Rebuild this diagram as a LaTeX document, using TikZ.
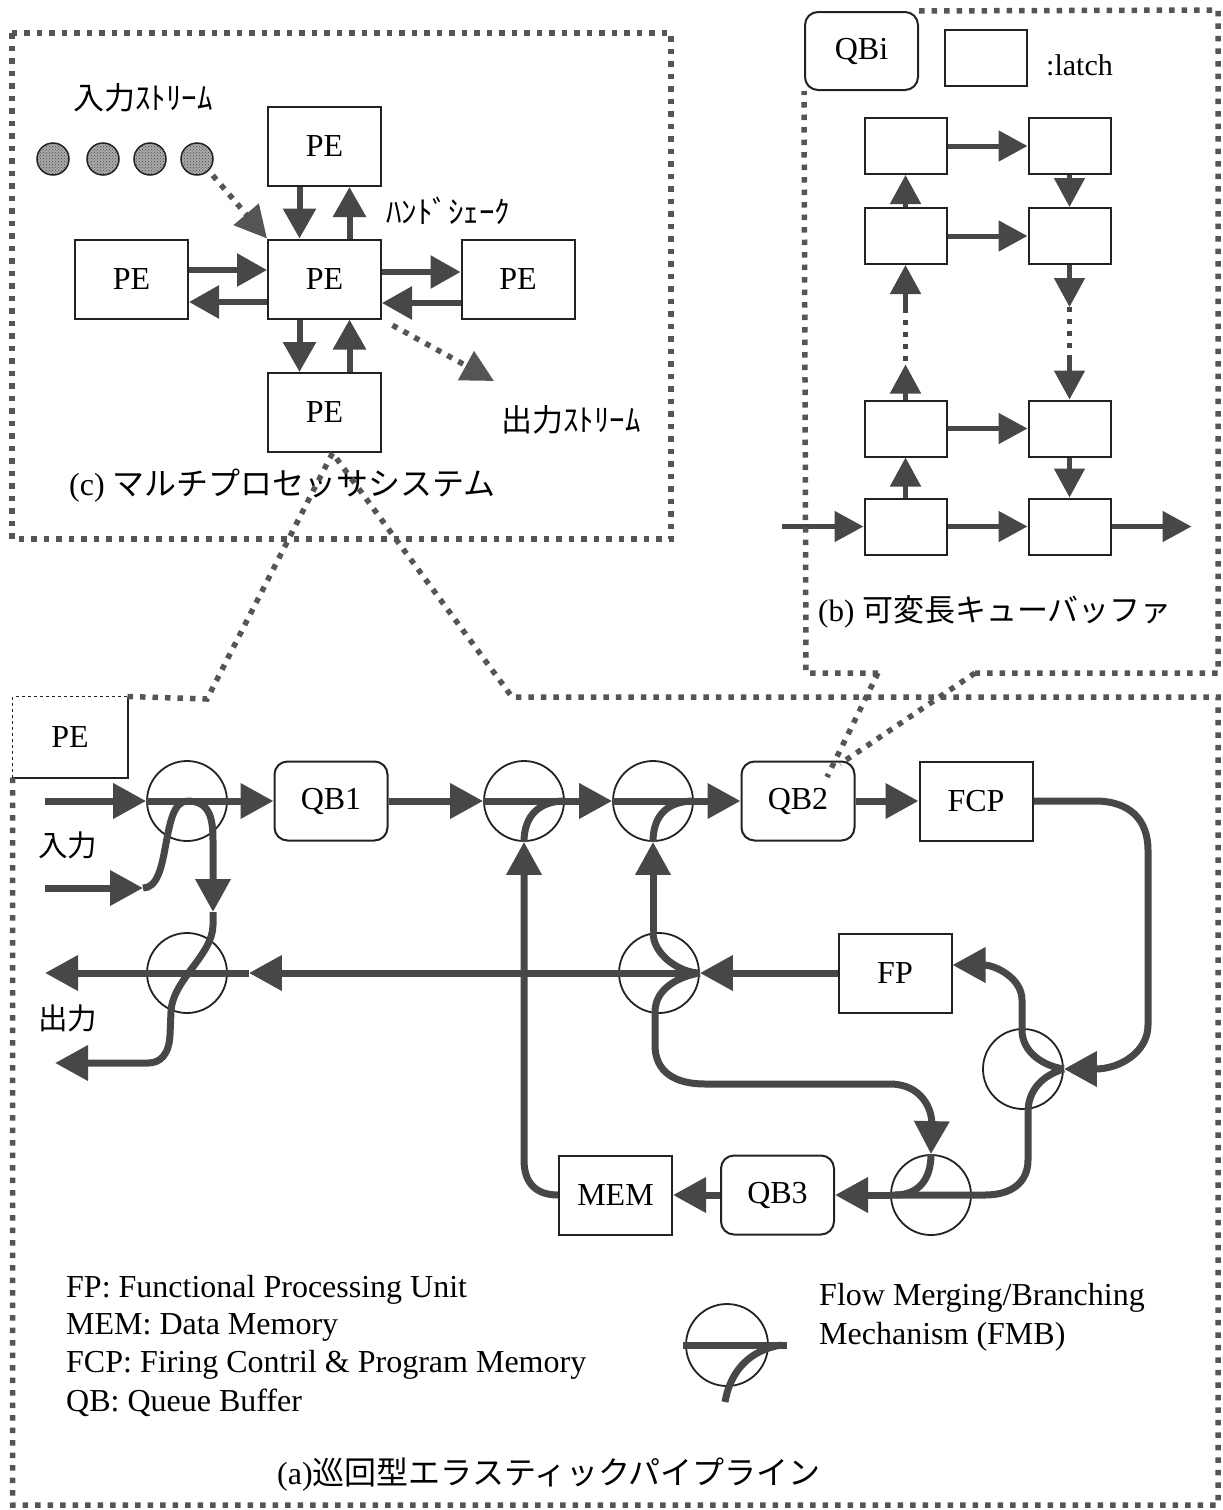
\documentclass[tikz,border=0pt]{standalone}
\usepackage{fontspec}
\setmainfont{Liberation Serif}
\newfontfamily\jpfont{Noto Sans CJK JP}
\usetikzlibrary{arrows.meta, positioning, patterns}
\definecolor{pipegray}{HTML}{474747}
\definecolor{dotgray}{HTML}{555555}
\definecolor{edgeblk}{HTML}{222222}
\definecolor{streamfill}{HTML}{A9A9A9}
\tikzset{
  pebox/.style   ={rectangle, draw=edgeblk, line width=2pt, minimum width=113pt,
                   minimum height=79pt, inner sep=0pt, font=\fontsize{32}{36}\selectfont},
  qbox/.style    ={pebox, rounded corners=13pt},
  latch/.style   ={rectangle, draw=edgeblk, line width=2pt, minimum width=82pt,
                   minimum height=56pt, inner sep=0pt},
  fmb/.style     ={circle, draw=edgeblk, line width=1.8pt, minimum size=80pt, inner sep=0pt},
  token/.style   ={circle, draw=edgeblk, line width=1.5pt, fill=streamfill,
                   minimum size=32pt, inner sep=0pt},
  pipe/.style    ={line width=7pt, draw=pipegray},
  flow/.style    ={pipe, -{Triangle[length=33pt, width=34pt]}},
  hshake/.style  ={line width=6pt, draw=pipegray, -{Triangle[length=30pt, width=32pt]}},
  lflow/.style   ={line width=5pt, draw=pipegray, -{Triangle[length=29pt, width=30pt]}},
  ldot/.style    ={line width=5pt, draw=pipegray, dash pattern=on 5pt off 7pt},
  dotframe/.style={line width=5.5pt, draw=dotgray, dash pattern=on 5.5pt off 7pt},
  dflow/.style   ={dotframe, -{Triangle[length=32pt, width=32pt]}},
  jlabel/.style  ={font=\jpfont\fontsize{31}{36}\selectfont, inner sep=0pt, anchor=west},
  rlabel/.style  ={font=\fontsize{32}{36}\selectfont, inner sep=0pt, anchor=west},
}
\begin{document}
\begin{tikzpicture}[x=1pt, y=-1pt]
  \useasboundingbox (0,0) rectangle (1223,1510);

  % (c) multiprocessor
  \draw[dotframe] (12,33) rectangle (671,539);
  \node[jlabel] (instr) at (73,98) {入力ｽﾄﾘｰﾑ};
  \node[token] (s1) at (53,159) {};
  \node[token] (s2) at (103,159) {};
  \node[token] (s3) at (150,159) {};
  \node[token] (s4) at (197,159) {};
  \foreach \s in {s1,s2,s3,s4}
    \fill[pattern=crosshatch dots, pattern color=black!70] (\s.center) circle (15pt);
  \node[pebox] (pct) at (324.5,146.5) {PE};
  \node[pebox] (pcc) at (324.5,279) {PE};
  \node[pebox] (pcl) at (131.5,279) {PE};
  \node[pebox] (pcr) at (518,279) {PE};
  \node[pebox] (pcb) at (324.5,412.5) {PE};
  \node[jlabel] (hand) at (386,211) {ﾊﾝﾄﾞｼｪｰｸ};
  \node[jlabel] (outstr) at (501,420) {出力ｽﾄﾘｰﾑ};
  \node[rlabel] (ctitle) at (69,486) {(c) {\jpfont マルチプロセッサシステム}};
  \coordinate (ostr) at (494,381);

  \draw[dflow, shorten <=6pt] (s4.south east) -- (pcc.north west);
  \draw[hshake] ([xshift=-25pt]pct.south) -- ([xshift=-25pt]pcc.north);
  \draw[hshake] ([xshift=25pt]pcc.north) -- ([xshift=25pt]pct.south);
  \draw[hshake] ([yshift=9pt]pcl.east) -- ([yshift=9pt]pcc.west);
  \draw[hshake] ([yshift=-23pt]pcc.west) -- ([yshift=-23pt]pcl.east);
  \draw[hshake] ([yshift=7pt]pcc.east) -- ([yshift=7pt]pcr.west);
  \draw[hshake] ([yshift=-24pt]pcr.west) -- ([yshift=-24pt]pcc.east);
  \draw[hshake] ([xshift=-25pt]pcc.south) -- ([xshift=-25pt]pcb.north);
  \draw[hshake] ([xshift=25pt]pcb.north) -- ([xshift=25pt]pcc.south);
  \draw[dflow, shorten <=12pt] (pcc.south east) -- (ostr);

  % (b) variable length queue buffer
  \node[qbox, minimum height=78pt] (qbi) at (861.5,51) {QBi};
  \node[latch] (key) at (986,58) {};
  \node[rlabel, font=\fontsize{30}{34}\selectfont] (keytxt) at (1046,65) {:latch};
  \node[latch] (l1) at (905.5,146) {};
  \node[latch, right=80pt of l1] (r1) {};
  \node[latch, below=32pt of l1] (l2) {};
  \node[latch, right=80pt of l2] (r2) {};
  \node[latch] (l3) at (905.5,428.5) {};
  \node[latch, right=80pt of l3] (r3) {};
  \node[latch, below=40pt of l3] (l4) {};
  \node[latch, right=80pt of l4] (r4) {};
  \coordinate[left=82pt of l4] (bin);
  \coordinate[right=80pt of r4] (bout);
  \coordinate[above=35pt of l3] (lu1);
  \coordinate[below=44pt of l2] (lu2);
  \coordinate[below=42pt of r2] (rd1);
  \coordinate[above=42pt of r3] (rd2);
  \node[rlabel, font=\fontsize{31}{36}\selectfont] (btitle) at (818,612) {(b) {\jpfont 可変長キューバッファ}};

  \draw[lflow] (bin) -- (l4);
  \draw[lflow] (l1) -- (r1);
  \draw[lflow] (l2) -- (r2);
  \draw[lflow] (l3) -- (r3);
  \draw[lflow] (l4) -- (r4);
  \draw[lflow] (r4) -- (bout);
  \draw[lflow] (l4) -- (l3);
  \draw[lflow] (l3) -- (lu1);
  \draw[ldot] ([yshift=4pt]lu1) -- (lu2);
  \draw[lflow] (lu2) -- (l2);
  \draw[lflow] (l2) -- (l1);
  \draw[lflow] (r1) -- (r2);
  \draw[lflow] (r2) -- (rd1);
  \draw[ldot] (rd1) -- (rd2);
  \draw[lflow] (rd2) -- (r3);
  \draw[lflow] (r3) -- (r4);

  \coordinate (bz1) at (878,673);
  \coordinate (bz2) at (975,673);
  \draw[dotframe] (qbi.north east) -- (1218,10) -- (1218,673) -- (bz2);
  \draw[dotframe] (bz1) -- (806,673) -- (qbi.south west);

  % (a) circulating elastic pipeline
  \node[pebox, draw=none] (pe) at (70,737) {PE};
  \draw[edgeblk, line width=1.5pt, dashed] (pe.south west) -- (pe.north west) -- (pe.north east);
  \draw[edgeblk, line width=2pt] (pe.north east) -- (pe.south east) -- (pe.south west);
  \node[fmb] (m1) at (187,801) {};
  \node[qbox] (qb1) at (331,801) {QB1};
  \node[fmb] (m2) at (524,801) {};
  \node[fmb] (m3) at (653,801) {};
  \node[qbox] (qb2) at (798,801) {QB2};
  \node[pebox] (fcp) at (976,801) {FCP};
  \node[fmb] (m4) at (187,973) {};
  \node[fmb] (m6) at (659,973) {};
  \node[pebox] (fp) at (895,973) {FP};
  \node[fmb] (m5) at (1023,1069) {};
  \node[fmb] (m7) at (931,1195) {};
  \node[qbox] (qb3) at (777.5,1195) {QB3};
  \node[pebox] (mem) at (615.5,1195) {MEM};
  \node[jlabel, font=\jpfont\fontsize{29.5}{34}\selectfont] (inlbl) at (38,845) {入力};
  \node[jlabel, font=\jpfont\fontsize{29.5}{34}\selectfont] (outlbl) at (38,1018) {出力};
  \coordinate (in1) at (45,801);
  \coordinate (in2) at (45,888);
  \coordinate (in2e) at (143,888);
  \coordinate (out1) at (45,973);
  \coordinate (out2) at (55,1063);
  \coordinate (brk) at (213,912);

  \draw[flow] (in1) -- (m1.west);
  \draw[flow] (m1.west) -- (qb1.west);
  \draw[flow] (qb1.east) -- (m2.west);
  \draw[flow] (m2.west) -- (m3.west);
  \draw[flow] (m3.west) -- (qb2.west);
  \draw[flow] (qb2.east) -- (fcp.west);
  \draw[flow] (fcp.east) -- (1095,801) .. controls (1130,801) and (1148,820) .. (1148,850)
    -- (1148,1025) .. controls (1148,1052) and (1120,1069) .. (m5.east);
  \draw[flow] (in2) -- (in2e);
  \draw[pipe] (in2e) .. controls (172,888) and (160,802) .. (m1.center);
  \draw[flow] (m1.center) .. controls (208,801) and (213,815) .. (213,840) -- (brk);
  \draw[flow] (brk) -- (213,925) .. controls (213,955) and (172,980) .. (171,1012) -- (170,1035)
    .. controls (169,1055) and (160,1063) .. (148,1063) -- (out2);
  \draw[flow] (fp.west) -- (m6.east);
  \draw[flow, shorten >=21pt] (m6.east) -- (m4.east);
  \draw[flow] ([xshift=21pt]m4.east) -- (out1);
  \draw[flow] (mem.west) .. controls (535,1195) and (524,1182) .. (524,1160) -- (m2.south);
  \draw[pipe] (m2.south) .. controls (524,815) and (540,801) .. (m2.east);
  \draw[flow] (m3.south |- m6.north) -- (m3.south);
  \draw[pipe] (m3.south) .. controls (653,815) and (668,801) .. (m3.east);
  \draw[pipe] (m3.south |- m6.north) .. controls (653,955) and (680,973) .. (m6.east);
  \draw[flow] (m6.east) .. controls (680,976) and (655,988) .. (655,1012) -- (655,1045)
    .. controls (655,1072) and (675,1084) .. (705,1084) -- (890,1084)
    .. controls (922,1084) and (932,1110) .. (m7.north);
  \draw[pipe] (m7.north) .. controls (931,1180) and (918,1195) .. (895,1195);
  \draw[flow] (m5.east) .. controls (1043,1066) and (1022,1052) .. (1022,1030) -- (1022,1000)
    .. controls (1022,978) and (995,965) .. ([yshift=8pt]fp.east);
  \draw[pipe] (m5.east) .. controls (1043,1075) and (1028,1090) .. (1028,1112) -- (1028,1160)
    .. controls (1028,1182) and (1012,1195) .. (985,1195) -- (m7.west);
  \draw[flow] (m7.west) -- (qb3.east);
  \draw[flow] (qb3.west) -- (mem.east);

  \coordinate (az1) at (207,699);
  \coordinate (az2) at (512,697);
  \coordinate (czt) at ([xshift=8pt]pcb.south);
  \coordinate (qz1) at (827,777);
  \coordinate (qz2) at (840,764);
  \draw[dotframe] (pe.north east) -- (az1) -- (czt) -- (az2) -- (1218,697) -- (1218,1505) -| (pe.south west);
  \draw[dotframe] (bz1) -- (qz1);
  \draw[dotframe] (bz2) -- (qz2);

  % legend
  \node[rlabel] (key1) at (66,1290) {FP: Functional Processing Unit};
  \node[rlabel] (key2) at (66,1327) {MEM: Data Memory};
  \node[rlabel] (key3) at (66,1365) {FCP: Firing Contril \& Program Memory};
  \node[rlabel] (key4) at (66,1403) {QB: Queue Buffer};
  \node[fmb, minimum size=82pt] (fmbk) at (727,1345) {};
  \draw[pipe] ([xshift=-2pt]fmbk.west) -- ([xshift=18pt]fmbk.east);
  \draw[pipe] ([xshift=12pt]fmbk.east) .. controls (752,1350) and (731,1368) .. (725,1402);
  \node[rlabel] (fmbtxt1) at (819,1298) {Flow Merging/Branching};
  \node[rlabel] (fmbtxt2) at (819,1337) {Mechanism (FMB)};
  \node[rlabel] (atitle) at (277,1475) {(a){\jpfont 巡回型エラスティックパイプライン}};
\end{tikzpicture}
\end{document}
